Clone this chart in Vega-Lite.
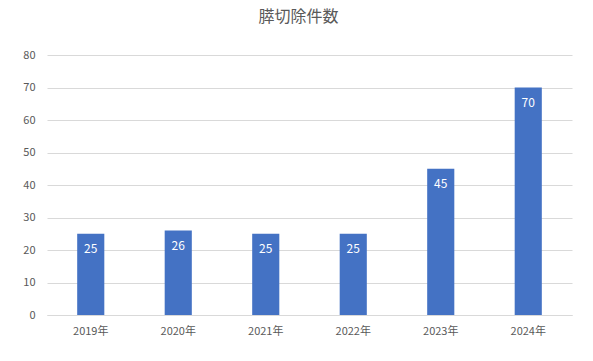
{
  "$schema": "https://vega.github.io/schema/vega-lite/v6.json",
  "autosize": {"type": "none"},
  "padding": {"left": 47, "top": 55, "right": 21, "bottom": 46},
  "width": 525,
  "height": 260,
  "background": "white",
  "config": {"view": {"stroke": null}, "font": "Noto Sans CJK JP"},
  "title": {"text": "膵切除件数", "fontSize": 16, "fontWeight": "normal", "color": "#595959", "anchor": "middle", "offset": 24, "dx": -11, "font": "Noto Sans CJK JP"},
  "data": {"values": [
    {"year": "2019年", "count": 25},
    {"year": "2020年", "count": 26},
    {"year": "2021年", "count": 25},
    {"year": "2022年", "count": 25},
    {"year": "2023年", "count": 45},
    {"year": "2024年", "count": 70}
  ]},
  "encoding": {
    "x": {"field": "year", "type": "nominal", "sort": null,
      "scale": {"paddingInner": 0.69, "paddingOuter": 0.345},
      "axis": {"title": null, "labelAngle": 0, "domain": true, "domainColor": "#d9d9d9", "ticks": false, "labelColor": "#595959", "labelFontSize": 11, "labelPadding": 10}},
    "y": {"field": "count", "type": "quantitative",
      "scale": {"domain": [0, 80], "nice": false},
      "axis": {"title": null, "values": [0,10,20,30,40,50,60,70,80], "labelOverlap": false, "domain": false, "ticks": false, "gridColor": "#d9d9d9", "labelColor": "#595959", "labelFontSize": 11, "labelPadding": 12}}
  },
  "layer": [
    {"mark": {"type": "bar", "color": "#4472C4"}},
    {"mark": {"type": "text", "color": "white", "fontSize": 12, "baseline": "middle", "dy": 15}, "encoding": {"text": {"field": "count", "type": "quantitative"}}}
  ]
}
